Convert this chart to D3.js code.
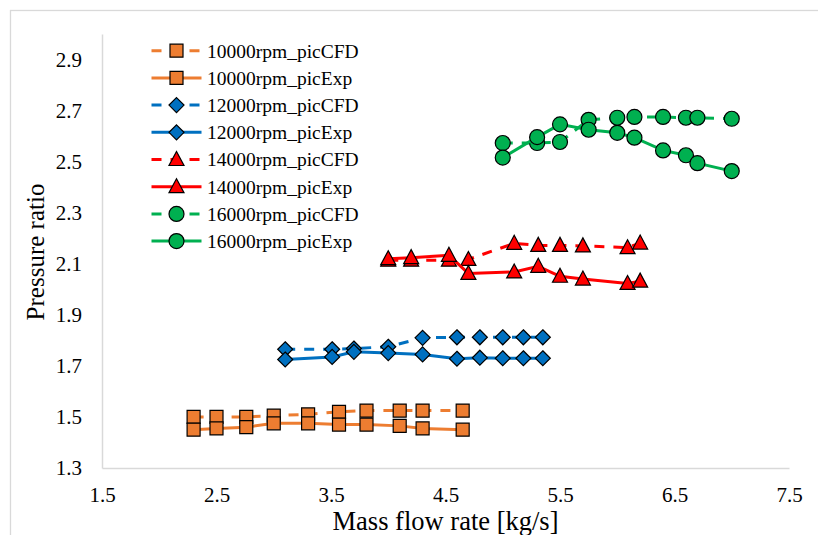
<!DOCTYPE html>
<html>
<head>
<meta charset="utf-8">
<script src="https://cdn.jsdelivr.net/npm/d3@7"></script>
<style>
  html, body { margin: 0; padding: 0; background: #fff; }
  svg { display: block; font-family: "Liberation Serif", "Times New Roman", serif; }
</style>
</head>
<body>
<svg id="chart" width="818" height="535"></svg>
<script>
// Compressor map: pressure ratio vs mass flow rate, CFD vs experiment
const flow10 = [2.30, 2.50, 2.76, 3.00, 3.30, 3.57, 3.81, 4.10, 4.30, 4.65];
const cfd10  = [1.50, 1.50, 1.50, 1.505, 1.51, 1.52, 1.525, 1.525, 1.525, 1.525];
const exp10  = [1.45, 1.455, 1.46, 1.475, 1.475, 1.47, 1.47, 1.465, 1.455, 1.45];

const flow12 = [3.10, 3.51, 3.70, 4.00, 4.30, 4.60, 4.80, 5.00, 5.18, 5.35];
const cfd12  = [1.765, 1.765, 1.768, 1.775, 1.81, 1.812, 1.812, 1.812, 1.812, 1.812];
const exp12  = [1.725, 1.735, 1.755, 1.75, 1.745, 1.728, 1.732, 1.73, 1.73, 1.73];

const flow14 = [4.00, 4.20, 4.53, 4.70, 5.10, 5.31, 5.50, 5.70, 6.09, 6.20];
const cfd14  = [2.114, 2.114, 2.114, 2.117, 2.18, 2.172, 2.172, 2.17, 2.163, 2.181];
const exp14  = [2.12, 2.124, 2.133, 2.062, 2.068, 2.09, 2.051, 2.04, 2.023, 2.032];

const flow16 = [5.00, 5.30, 5.50, 5.75, 6.00, 6.15, 6.40, 6.60, 6.70, 7.00];
const cfd16  = [2.573, 2.573, 2.577, 2.664, 2.672, 2.675, 2.675, 2.672, 2.672, 2.668];
const exp16  = [2.516, 2.596, 2.646, 2.625, 2.613, 2.594, 2.544, 2.525, 2.494, 2.463];

const xTicks = [1.5, 2.5, 3.5, 4.5, 5.5, 6.5, 7.5];
const yTicks = [1.3, 1.5, 1.7, 1.9, 2.1, 2.3, 2.5, 2.7, 2.9];

const series = [
  { name: "10000rpm_picCFD", x: flow10, y: cfd10, color: "#ED7D31", marker: "square",   dashed: true },
  { name: "10000rpm_picExp", x: flow10, y: exp10, color: "#ED7D31", marker: "square",   dashed: false },
  { name: "12000rpm_picCFD", x: flow12, y: cfd12, color: "#0070C0", marker: "diamond",  dashed: true },
  { name: "12000rpm_picExp", x: flow12, y: exp12, color: "#0070C0", marker: "diamond",  dashed: false },
  { name: "14000rpm_picCFD", x: flow14, y: cfd14, color: "#FF0000", marker: "triangle", dashed: true },
  { name: "14000rpm_picExp", x: flow14, y: exp14, color: "#FF0000", marker: "triangle", dashed: false },
  { name: "16000rpm_picCFD", x: flow16, y: cfd16, color: "#00B050", marker: "circle",   dashed: true },
  { name: "16000rpm_picExp", x: flow16, y: exp16, color: "#00B050", marker: "circle",   dashed: false }
];

const svg = d3.select("#chart");
const axisColor = "#d9d9d9";
const dash = "10,9";

// outer chart frame
svg.append("rect")
  .attr("x", 10.5).attr("y", 10.5)
  .attr("width", 830).attr("height", 540)
  .attr("fill", "none").attr("stroke", axisColor).attr("stroke-width", 1.3);

const plot = { left: 102, right: 789, top: 34, bottom: 468 };
const x = d3.scaleLinear().domain([1.5, 7.5]).range([plot.left, plot.right]);
const y = d3.scaleLinear().domain([1.3, 3.0]).range([plot.bottom, plot.top]);

// axes: plain grey lines, no tick marks
const xAxis = d3.axisBottom(x).tickValues(xTicks).tickSize(0).tickPadding(19)
  .tickFormat(d3.format(".1f"));
const yAxis = d3.axisLeft(y).tickValues(yTicks).tickSize(0).tickPadding(20)
  .tickFormat(d3.format(".1f"));

const gx = svg.append("g").attr("transform", `translate(0,${plot.bottom})`).call(xAxis);
const gy = svg.append("g").attr("transform", `translate(${plot.left},0)`).call(yAxis);
[gx, gy].forEach(g => {
  g.select(".domain").attr("stroke", axisColor).attr("stroke-width", 1.5);
  g.selectAll("text").attr("fill", "#000").style("font-family", "Liberation Serif")
    .style("font-size", "21px");
});

// axis titles
svg.append("text")
  .attr("x", (plot.left + plot.right) / 2).attr("y", 530)
  .attr("text-anchor", "middle").style("font-size", "26.5px").attr("fill", "#000")
  .text("Mass flow rate [kg/s]");
svg.append("text")
  .attr("transform", `translate(44,252) rotate(-90)`)
  .attr("text-anchor", "middle").style("font-size", "25px").attr("fill", "#000")
  .text("Pressure ratio");

// marker shapes
function markerPath(type) {
  switch (type) {
    case "square":   return "M-6.5,-6.5H6.5V6.5H-6.5Z";
    case "diamond":  return "M0,-7.5L7.5,0L0,7.5L-7.5,0Z";
    case "triangle": return "M0,-8L7.5,6L-7.5,6Z";
    default:         return "M7.5,0A7.5,7.5 0 1,1 -7.5,0A7.5,7.5 0 1,1 7.5,0Z";
  }
}

const line = d3.line().x(d => x(d[0])).y(d => y(d[1]));

series.forEach(s => {
  const pts = s.x.map((v, i) => [v, s.y[i]]);
  const g = svg.append("g");
  g.append("path")
    .attr("d", line(pts))
    .attr("fill", "none")
    .attr("stroke", s.color)
    .attr("stroke-width", 3)
    .attr("stroke-dasharray", s.dashed ? dash : null);
  g.selectAll("path.mk").data(pts).enter().append("path")
    .attr("class", "mk")
    .attr("d", markerPath(s.marker))
    .attr("transform", d => `translate(${x(d[0])},${y(d[1])})`)
    .attr("fill", s.color)
    .attr("stroke", "#000")
    .attr("stroke-width", 1.2);
});

// legend
const legend = svg.append("g");
series.forEach((s, i) => {
  const ly = 50.7 + i * 27.2;
  const row = legend.append("g").attr("transform", `translate(0,${ly})`);
  row.append("line")
    .attr("x1", 151.5).attr("x2", 201.5).attr("y1", 0).attr("y2", 0)
    .attr("stroke", s.color).attr("stroke-width", 3)
    .attr("stroke-dasharray", s.dashed ? dash : null);
  row.append("path")
    .attr("d", markerPath(s.marker))
    .attr("transform", "translate(176.5,0)")
    .attr("fill", s.color).attr("stroke", "#000").attr("stroke-width", 1.2);
  row.append("text")
    .attr("x", 207).attr("y", 0).attr("dy", "0.35em")
    .style("font-size", "19.5px").attr("fill", "#000")
    .text(s.name);
});
</script>
</body>
</html>
